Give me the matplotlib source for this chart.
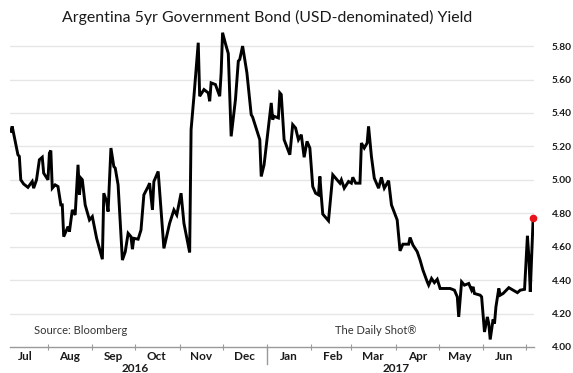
import matplotlib
matplotlib.use("Agg")
import matplotlib.pyplot as plt
import matplotlib.transforms as mtransforms
import pandas as pd

# ---- data ----
start_date = "2016-07-01"
day_offsets = [
    5, 6, 10, 11, 12, 14, 17, 20, 21, 23, 25, 27, 28, 31, 32, 33, 34, 36, 38, 40,
    41, 42, 43, 45, 46, 48, 50, 52, 53, 54, 55, 57, 60, 62, 65, 69, 70, 72, 73, 75,
    77, 78, 80, 83, 85, 87, 89, 90, 91, 94, 96, 98, 101,
    102, 104, 105, 108, 112, 116, 119, 121, 124, 126, 130, 131, 133, 136, 137, 140,
    143, 144, 145, 148, 151, 152, 153, 155, 157, 159, 162, 164, 165, 167, 170, 173,
    174, 179, 180, 182, 187, 188, 189, 192, 193, 194, 196, 200,
    202, 204, 206, 208, 210, 212, 214, 216, 218, 220, 221, 222, 223, 227, 230, 232,
    235, 236, 238, 241, 243, 244, 246, 249, 250, 252, 254, 255, 257, 259, 262, 264,
    265, 266, 269, 271, 275, 277, 279, 283, 284, 286, 289, 291, 293, 296, 297,
    299, 301, 303, 305, 312, 315, 317, 318, 320, 322, 325, 327, 328, 329, 333, 334,
    336, 338, 339, 340, 342, 343, 344, 346, 347, 349, 353, 356, 359, 361, 364, 366,
    367, 368, 370,
]
yields = [
    5.29, 5.32, 5.15, 5.14, 5.00, 4.975, 4.955, 4.99, 4.95, 5.00, 5.12, 5.135, 5.04,
    5.00, 5.16, 5.175, 4.95, 4.97, 4.96, 4.85,
    4.85, 4.66, 4.68, 4.72, 4.69, 4.82, 4.79, 5.09, 4.91, 5.01, 5.00, 4.85, 4.76,
    4.78, 4.65, 4.525, 4.92, 4.87, 4.81, 5.19,
    5.08, 5.07, 4.97, 4.52, 4.57, 4.68, 4.66, 4.585, 4.65, 4.645, 4.70, 4.91, 4.96,
    4.98, 4.82, 4.99, 5.05, 4.59, 4.74, 4.82, 4.79, 4.92, 4.74, 4.565, 5.30, 5.50,
    5.82, 5.50, 5.54,
    5.52, 5.47, 5.58, 5.57, 5.50, 5.64, 5.88, 5.815, 5.755, 5.26, 5.48, 5.71, 5.72,
    5.80, 5.64, 5.39,
    5.375, 5.24, 5.02, 5.09, 5.46, 5.36, 5.38, 5.37, 5.52, 5.51, 5.24, 5.15,
    5.33, 5.31, 5.24, 5.27, 5.135, 5.23, 5.19, 4.96, 4.92, 4.91, 5.02, 4.90, 4.795,
    4.755, 5.03, 5.01,
    4.98, 5.00, 4.95, 4.99, 4.98, 5.015, 4.98, 4.98, 5.22, 5.19, 5.22, 5.32, 5.14,
    5.01, 4.95, 5.015,
    4.98, 4.95, 4.995, 4.85, 4.76, 4.575, 4.615, 4.615, 4.655, 4.61, 4.57, 4.52,
    4.46, 4.39, 4.37,
    4.41, 4.385, 4.405, 4.35, 4.35, 4.34, 4.30, 4.18, 4.39, 4.37, 4.38, 4.34, 4.36,
    4.32, 4.31, 4.30,
    4.09, 4.18, 4.14, 4.045, 4.165, 4.14, 4.24, 4.35, 4.31, 4.32, 4.355, 4.34, 4.325,
    4.34, 4.345, 4.665,
    4.54, 4.33, 4.77,
]
y_ticks = [4.00, 4.20, 4.40, 4.60, 4.80, 5.00, 5.20, 5.40, 5.60, 5.80]
month_labels = ["Jul", "Aug", "Sep", "Oct", "Nov", "Dec",
                "Jan", "Feb", "Mar", "Apr", "May", "Jun"]
month_starts = pd.date_range("2016-07-01", "2017-07-01", freq="MS")
year_labels = ["2016", "2017"]
year_split = "2017-01-01"

title = "Argentina 5yr Government Bond (USD-denominated) Yield"
source = "Source: Bloomberg"
brand = "The Daily Shot\u00ae"

# ---- figure ----
W, H = 573, 373
fig = plt.figure(figsize=(W / 100, H / 100), dpi=100)
fig.patch.set_facecolor("white")
FONT = "Lato"

x0, x1 = 10, 534
y_bot, y_top = 347, 21
ax = fig.add_axes([x0 / W, (H - y_bot) / H, (x1 - x0) / W, (y_bot - y_top) / H])

base = pd.Timestamp(start_date)
dates = base + pd.to_timedelta(day_offsets, unit="D")

ax.set_xlim(base + pd.Timedelta(days=4.47), base + pd.Timedelta(days=370.6))
ax.set_ylim(4.0, 5.95)

# grid lines
for v in y_ticks[1:]:
    ax.axhline(v, color="#e6e6e6", lw=1.0, zorder=0)

ax.plot(dates, yields, color="black", lw=2.1, solid_joinstyle="miter", zorder=3)
ax.plot(dates[-1:], yields[-1:], "o", color="#e8141b", ms=4.5, zorder=4,
        clip_on=False)

# spines
for s in ["top", "left", "right"]:
    ax.spines[s].set_visible(False)
ax.spines["bottom"].set_color("#9a9a9a")
ax.spines["bottom"].set_linewidth(1.0)

# y axis on the right
ax.yaxis.tick_right()
ax.set_yticks(y_ticks)
ax.set_yticklabels([f"{v:.2f}" for v in y_ticks], fontsize=7.3,
                   fontweight="bold", family=FONT, color="#1a1a1a")
ax.tick_params(axis="y", length=0, pad=13)

# x axis: month start ticks (minor), month labels at mid-month (major)
ax.set_xticks(month_starts[1:], minor=True)
mids = [m + pd.Timedelta(days=15) for m in month_starts[:-1]]
ax.set_xticks(mids)
ax.set_xticklabels(month_labels, fontsize=8.5, fontweight="bold", family=FONT,
                   color="#1a1a1a")
ax.tick_params(axis="x", which="major", length=0, pad=3)
ax.tick_params(axis="x", which="minor", length=4, direction="inout",
               color="#9a9a9a", width=0.8)

# year separator
trans = mtransforms.blended_transform_factory(ax.transData, ax.transAxes)
ysplit = pd.Timestamp(year_split)
ax.plot([ysplit, ysplit], [0, -17 / (y_bot - y_top)], transform=trans,
        color="#9a9a9a", lw=1.0, clip_on=False)

# year labels
y_year = -(368 - y_bot) / (y_bot - y_top)
ax.text(pd.Timestamp("2016-07-01") + (ysplit - pd.Timestamp("2016-07-01")) / 2,
        y_year, year_labels[0], transform=trans, ha="center", va="center",
        fontsize=8.5, fontweight="bold", family=FONT, color="#1a1a1a")
ax.text(ysplit + (pd.Timestamp("2017-07-01") - ysplit) / 2,
        y_year, year_labels[1], transform=trans, ha="center", va="center",
        fontsize=8.5, fontweight="bold", family=FONT, color="#1a1a1a")

# texts
fig.text(267 / W, 1 - 17 / H, title, ha="center", va="center", fontsize=11.4,
         family=FONT, color="#1a1a1a")
fig.text(34 / W, 1 - 331 / H, source, ha="left", va="center", fontsize=8,
         family=FONT, color="#333333")
fig.text(335 / W, 1 - 330 / H, brand, ha="left", va="center", fontsize=8,
         family=FONT, color="#333333")

fig.savefig("out.png", dpi=100, facecolor="white")
